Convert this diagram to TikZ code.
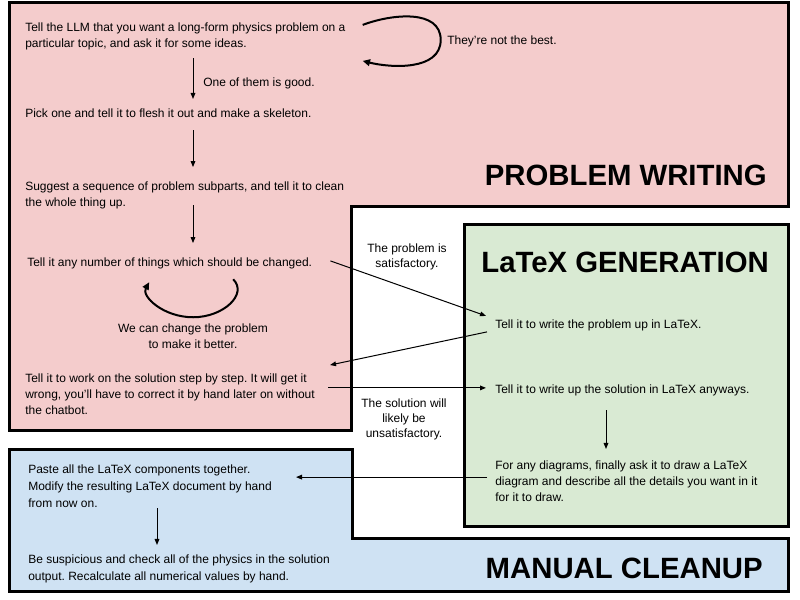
\documentclass[tikz,border=0pt]{standalone}
\usepackage{fontspec}
\setmainfont{Liberation Sans}
\usepackage{xcolor}
\usetikzlibrary{positioning,arrows.meta,calc}
\definecolor{pinkbg}{HTML}{F4CCCC}
\definecolor{greenbg}{HTML}{D9EAD3}
\definecolor{bluebg}{HTML}{CFE2F3}
\frenchspacing

\begin{document}
\begin{tikzpicture}[
  x=0.75pt, y=-0.75pt,
  font=\fontsize{9}{12}\selectfont,
  region/.style={draw=black, line width=2.25pt},
  txt/.style={inner sep=0pt, anchor=base west, align=left},
  note/.style={inner sep=0pt, anchor=base, align=center, font=\fontsize{9}{11}\selectfont},
  head/.style={inner sep=0pt, anchor=base east, font=\fontsize{22}{26}\selectfont\bfseries},
  arr/.style={-{Triangle[length=4.5pt,width=3.5pt]}, line width=0.75pt},
  looparr/.style={-{Triangle[length=5.5pt,width=5pt]}, line width=1.5pt}
]
  \useasboundingbox (0,0) rectangle (800,600);

  % the three stages
  \draw[region, fill=pinkbg] (9,2) -- (788,2) -- (788,206) -- (351,206) -- (351,430) -- (9,430) -- cycle;
  \draw[region, fill=greenbg] (464,224) rectangle (788,526);
  \draw[region, fill=bluebg] (9,449) -- (352,449) -- (352,538) -- (788,538) -- (788,591) -- (9,591) -- cycle;

  \node[head] (pwhead) at (767,185) {PROBLEM WRITING};
  \node[head] (lghead) at (769,272) {LaTeX GENERATION};
  \node[head] (mchead) at (763,578) {MANUAL CLEANUP};

  % problem writing (multi-line nodes sit on their last baseline)
  \node[txt] (ideas) at (25,47)
    {Tell the LLM that you want a long-form physics problem on a\\
     particular topic, and ask it for some ideas.};
  \node[txt] (skeleton) at (25,117)
    {Pick one and tell it to flesh it out and make a skeleton.};
  \node[txt] (subparts) at (25,206)
    {Suggest a sequence of problem subparts, and tell it to clean\\
     the whole thing up.};
  \node[txt] (changes) at (27,266)
    {Tell it any number of things which should be changed.};
  \node[txt] (solve) at (25,414)
    {Tell it to work on the solution step by step. It will get it\\
     wrong, you'll have to correct it by hand later on without\\
     the chatbot.};

  \node[txt] (notbest) at (447,44) {They're not the best.};
  \node[txt] (goodlbl) at (203,86) {One of them is good.};
  \node[note, font=\fontsize{9}{12}\selectfont] (betterlbl) at (193,348)
    {We can change the problem\\to make it better.};

  % latex generation
  \node[txt] (writeprob) at (495,328) {Tell it to write the problem up in LaTeX.};
  \node[txt] (writesol) at (495,393) {Tell it to write up the solution in LaTeX anyways.};
  \node[txt] (diagram) at (495,501)
    {For any diagrams, finally ask it to draw a LaTeX\\
     diagram and describe all the details you want in it\\
     for it to draw.};

  \node[note] (satlbl) at (407,267.5) {The problem is\\satisfactory.};
  \node[note] (unsatlbl) at (404,437) {The solution will\\likely be\\unsatisfactory.};

  % manual cleanup
  \node[txt, font=\fontsize{9}{12.75}\selectfont] (paste) at (28,507)
    {Paste all the LaTeX components together.\\
     Modify the resulting LaTeX document by hand\\
     from now on.};
  \node[txt, font=\fontsize{9}{12.75}\selectfont] (check) at (28,580)
    {Be suspicious and check all of the physics in the solution\\
     output. Recalculate all numerical values by hand.};

  \coordinate (spinePW) at (193,0);
  \coordinate (spineLG) at (606,0);
  \coordinate (spineMC) at (157,0);

  \draw[arr, shorten <=6.4pt, shorten >=6.8pt] (ideas.south -| spinePW) -- (skeleton.north -| spinePW);
  \draw[arr, shorten <=9.8pt, shorten >=10.5pt] (skeleton.south -| spinePW) -- (subparts.north -| spinePW);
  \draw[arr, shorten <=-2.6pt, shorten >=10.5pt] (subparts.south -| spinePW) -- (changes.north -| spinePW);
  \draw[arr, shorten <=10.9pt, shorten >=8.3pt] (writesol.south -| spineLG) -- (diagram.north -| spineLG);
  \draw[arr, shorten <=0.75pt, shorten >=6.8pt] (paste.south -| spineMC) -- (check.north -| spineMC);

  \draw[arr] ($(changes.east)+(18,-2)$) -- ($(writeprob.west)+(-9,-9)$);
  \draw[arr] ($(writeprob.west)+(-8,7)$) -- ($(solve.north east)+(15,-8)$);
  \draw[arr] ($(solve.east |- writesol.west)+(13,-2)$) -- ($(writesol.west)+(-9,-2)$);
  \draw[arr] ($(diagram.west)+(-8,-3.6)$) -- ($(paste.east)+(24,-8.6)$);

  % loops
  \draw[looparr, shift={(ideas.east)}] (17,-11) .. controls (46,-22) and (95,-27) .. (95,4)
    .. controls (95,35) and (45,32) .. (17,25);
  \draw[looparr, shift={(changes.south)}] (63.5,10.5) .. controls (78.5,25.5) and (53.5,48.5) .. (23.5,48.5)
    .. controls (-6.5,48.5) and (-28.5,27.5) .. (-20.5,13.5);
\end{tikzpicture}
\end{document}
